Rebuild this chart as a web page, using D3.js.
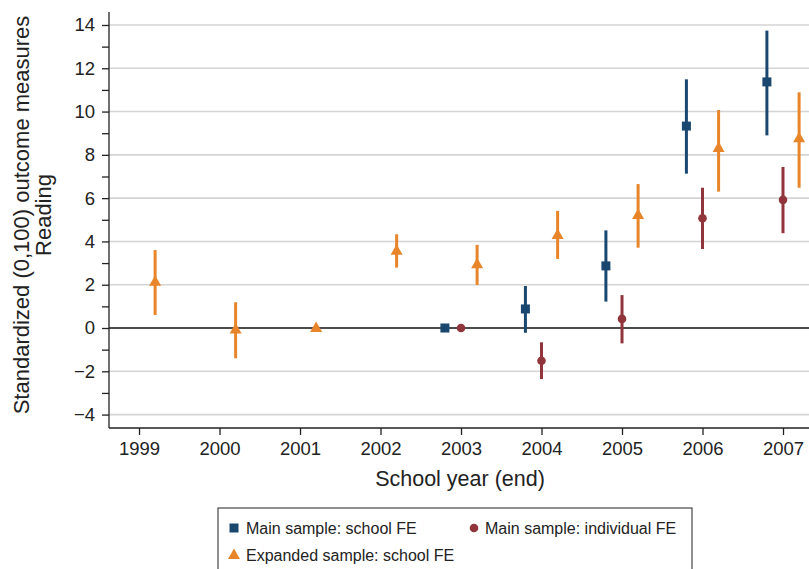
<!DOCTYPE html>
<html lang="en">
<head>
<meta charset="UTF-8">
<title>Reading</title>
<script src="https://cdn.jsdelivr.net/npm/d3@7"></script>
<style>
  body { margin: 0; background: #fff; }
  svg text { font-family: "Liberation Sans", Arial, sans-serif; fill: #222; }
</style>
</head>
<body>
<script>
// data
const years = [1999, 2000, 2001, 2002, 2003, 2004, 2005, 2006, 2007];
const yTicks = [-4, -2, 0, 2, 4, 6, 8, 10, 12, 14];

// main sample, school FE (2003 is the base year)
const schoolYears = [2003, 2004, 2005, 2006, 2007];
const schoolEst = [0, 0.88, 2.87, 9.33, 11.37];
const schoolLo = [null, -0.22, 1.22, 7.13, 8.9];
const schoolHi = [null, 1.94, 4.51, 11.49, 13.74];

// main sample, individual FE
const indivYears = [2003, 2004, 2005, 2006, 2007];
const indivEst = [0, -1.51, 0.42, 5.07, 5.92];
const indivLo = [null, -2.36, -0.71, 3.65, 4.38];
const indivHi = [null, -0.66, 1.52, 6.48, 7.44];

// expanded sample, school FE (2001 is the base year)
const expYears = [1999, 2000, 2001, 2002, 2003, 2004, 2005, 2006, 2007];
const expEst = [2.14, -0.07, 0, 3.57, 2.94, 4.3, 5.22, 8.32, 8.77];
const expLo = [0.6, -1.4, null, 2.79, 1.99, 3.19, 3.71, 6.3, 6.48];
const expHi = [3.6, 1.19, null, 4.33, 3.84, 5.41, 6.65, 10.07, 10.89];

const W = 809, H = 569;
const pLeft = 109, pRight = 809, pTop = 12, pBottom = 428;

const svg = d3.select("body").append("svg")
  .attr("width", W).attr("height", H);

const x = d3.scaleLinear().domain([1998.627, 2007.323]).range([pLeft, pRight]);
const y = d3.scaleLinear().domain([-4.62, 14.6]).range([pBottom, pTop]);

// gridlines
svg.append("g").selectAll("line")
  .data(yTicks.filter(d => d !== 0))
  .enter().append("line")
  .attr("x1", pLeft).attr("x2", pRight)
  .attr("y1", d => y(d)).attr("y2", d => y(d))
  .attr("stroke", "#d4d4d4").attr("stroke-width", 1.6);

// zero line
svg.append("line")
  .attr("x1", pLeft).attr("x2", pRight)
  .attr("y1", y(0)).attr("y2", y(0))
  .attr("stroke", "#111").attr("stroke-width", 1.3);

// axes
const yAxis = d3.axisLeft(y)
  .tickValues(d3.range(-4, 15, 1))
  .tickSize(7).tickPadding(7)
  .tickFormat(d => d % 2 === 0 ? String(d).replace("-", "\u2212") : "");
const gy = svg.append("g")
  .attr("transform", "translate(" + pLeft + ",0)")
  .call(yAxis);
gy.select(".domain").attr("d", "M0," + pTop + "V" + pBottom);

const xAxis = d3.axisBottom(x).tickValues(years).tickSize(7).tickPadding(7).tickFormat(d3.format("d"));
const gx = svg.append("g")
  .attr("transform", "translate(0," + pBottom + ")")
  .call(xAxis);
gx.select(".domain").attr("d", "M" + pLeft + ",0H" + pRight);

[gx, gy].forEach(g => {
  g.selectAll("path, line").attr("stroke", "#222").attr("stroke-width", 1.3);
  g.selectAll("text").style("font-size", "18.5px").attr("fill", "#222");
});

// titles
svg.append("text")
  .attr("x", 460).attr("y", 486)
  .attr("text-anchor", "middle")
  .style("font-size", "21.5px")
  .text("School year (end)");

const yt = svg.append("text")
  .attr("transform", "translate(29," + 215 + ") rotate(-90)")
  .attr("text-anchor", "middle")
  .style("font-size", "22px");
yt.append("tspan").attr("x", 0).attr("dy", 0).text("Standardized (0,100) outcome measures");
yt.append("tspan").attr("x", 0).attr("dy", 22).text("Reading");

// series
const series = [
  {name: "Main sample: school FE", color: "#1a476f", shape: "square", off: -0.2,
   years: schoolYears, est: schoolEst, lo: schoolLo, hi: schoolHi},
  {name: "Main sample: individual FE", color: "#90353b", shape: "circle", off: 0,
   years: indivYears, est: indivEst, lo: indivLo, hi: indivHi},
  {name: "Expanded sample: school FE", color: "#e8852a", shape: "triangle", off: 0.2,
   years: expYears, est: expEst, lo: expLo, hi: expHi}
];

function marker(g, shape, color) {
  if (shape === "square") {
    g.append("rect").attr("x", -4.5).attr("y", -4.5).attr("width", 9).attr("height", 9).attr("fill", color);
  } else if (shape === "circle") {
    g.append("circle").attr("r", 4.3).attr("fill", color);
  } else {
    g.append("path").attr("d", "M0,-6.5L6,4L-6,4Z").attr("fill", color);
  }
}

series.forEach(s => {
  const pts = s.years.map((yr, i) => ({yr: yr + s.off, est: s.est[i], lo: s.lo[i], hi: s.hi[i]}));
  const g = svg.append("g");
  g.selectAll("line")
    .data(pts.filter(p => p.lo !== null))
    .enter().append("line")
    .attr("x1", p => x(p.yr)).attr("x2", p => x(p.yr))
    .attr("y1", p => y(p.lo)).attr("y2", p => y(p.hi))
    .attr("stroke", s.color).attr("stroke-width", 3);
  g.selectAll("g.m")
    .data(pts)
    .enter().append("g").attr("class", "m")
    .attr("transform", p => "translate(" + x(p.yr) + "," + y(p.est) + ")")
    .each(function () { marker(d3.select(this), s.shape, s.color); });
});

// legend
const lg = svg.append("g");
lg.append("rect")
  .attr("x", 218).attr("y", 508).attr("width", 474).attr("height", 80)
  .attr("fill", "#fff").attr("stroke", "#222").attr("stroke-width", 1);
const legPos = [[234, 528], [474, 528], [234, 555]];
series.forEach((s, i) => {
  const item = lg.append("g").attr("transform", "translate(" + legPos[i][0] + "," + legPos[i][1] + ")");
  marker(item, s.shape, s.color);
  item.append("text")
    .attr("x", i === 1 ? 11 : 12).attr("y", 6)
    .style("font-size", "16px")
    .text(s.name);
});
</script>
</body>
</html>
